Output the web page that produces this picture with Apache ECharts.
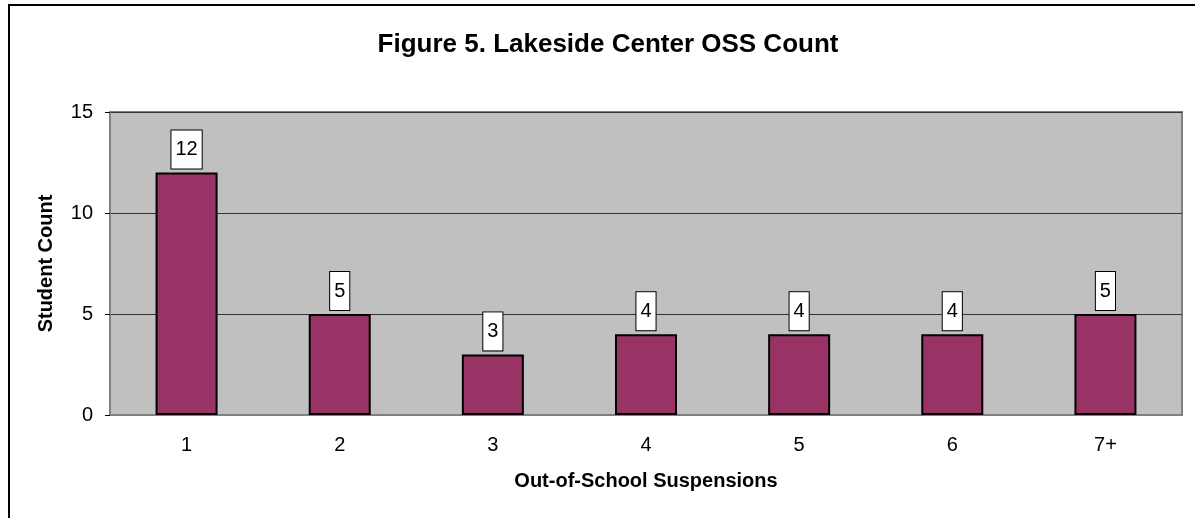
<!DOCTYPE html>
<html>
<head>
<meta charset="utf-8">
<title>Figure 5. Lakeside Center OSS Count</title>
<script src="https://cdn.jsdelivr.net/npm/echarts@6/dist/echarts.min.js"></script>
<style>
  html, body { margin: 0; padding: 0; background: #fff; }
  #chart { width: 1195px; height: 518px; }
</style>
</head>
<body>
<div id="chart"></div>
<script>
// data
const categories = ['1', '2', '3', '4', '5', '6', '7+']
const studentCounts = [12, 5, 3, 4, 4, 4, 5]
const yTicks = [0, 5, 10, 15]

const chart = echarts.init(document.getElementById('chart'))
const option = {
  textStyle: { fontFamily: '"Liberation Sans", Arial, sans-serif' },
  animation: false,
  title: {
    text: 'Figure 5. Lakeside Center OSS Count',
    left: 603,
    textAlign: 'center',
    top: 27,
    textStyle: { fontSize: 26, fontWeight: 'bold', color: '#000', fontFamily: '"Liberation Sans", Arial, sans-serif' }
  },
  graphic: [
    {
      type: 'rect',
      shape: { x: 9, y: 5, width: 1250, height: 600 },
      style: { fill: 'none', stroke: '#000', lineWidth: 2 }
    }
  ],
  grid: {
    left: 110,
    top: 112,
    right: 13,
    bottom: 103,
    show: true,
    backgroundColor: '#C0C0C0',
    borderColor: '#808080',
    borderWidth: 2
  },
  xAxis: {
    type: 'category',
    data: categories,
    name: 'Out-of-School Suspensions',
    nameLocation: 'middle',
    nameGap: 56,
    nameTextStyle: { fontSize: 20, fontWeight: 'bold', color: '#000' },
    axisLine: { lineStyle: { color: '#808080', width: 1 } },
    axisTick: { length: 5, lineStyle: { color: '#000' } },
    axisLabel: { fontSize: 20, color: '#000', margin: 20 }
  },
  yAxis: {
    type: 'value',
    min: yTicks[0],
    max: yTicks[yTicks.length - 1],
    interval: 5,
    name: 'Student Count',
    nameLocation: 'middle',
    nameGap: 54,
    nameTextStyle: { fontSize: 20, fontWeight: 'bold', color: '#000' },
    axisLine: { show: true, lineStyle: { color: '#808080', width: 1 } },
    axisTick: { show: true, length: 5, lineStyle: { color: '#000' } },
    axisLabel: { fontSize: 20, color: '#000', margin: 17 },
    splitLine: { lineStyle: { color: '#333', width: 1 } }
  },
  series: [
    {
      type: 'bar',
      data: studentCounts,
      barWidth: 62,
      itemStyle: { color: '#993366', borderColor: '#000', borderWidth: 2 },
      label: {
        show: true,
        position: 'top',
        distance: 4,
        fontSize: 20,
        color: '#000',
        backgroundColor: '#fff',
        borderColor: '#000',
        borderWidth: 1,
        lineHeight: 20,
        padding: [9, 4]
      }
    }
  ]
}
chart.setOption(option)
</script>
</body>
</html>
